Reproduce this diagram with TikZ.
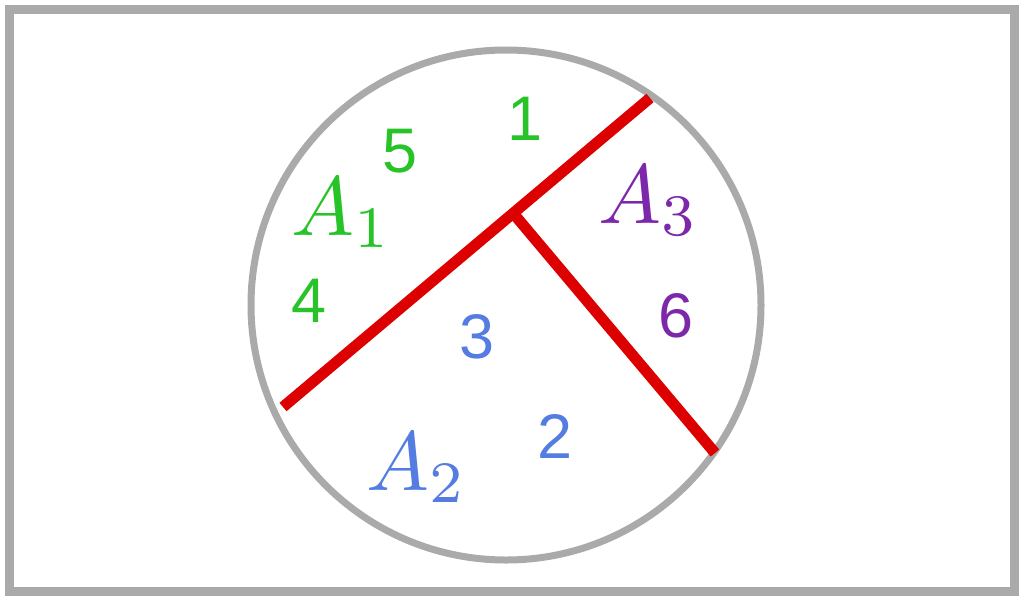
\documentclass[tikz,border=0pt]{standalone}
\usepackage{fontspec}
\newfontfamily\numfont{Liberation Sans}
\definecolor{fgray}{RGB}{170,170,170}
\definecolor{fred}{RGB}{220,0,0}
\definecolor{fgreen}{RGB}{40,195,40}
\definecolor{fpurple}{RGB}{125,40,170}
\definecolor{fblue}{RGB}{85,125,225}
\newcommand{\biglbl}[1]{\scalebox{8.4}{\fontsize{10}{12}\selectfont$#1$}}
\tikzset{
  num/.style={anchor=base, inner sep=0pt, font=\numfont\fontsize{63}{63}\selectfont},
  lbl/.style={anchor=base west, inner sep=0pt},
  cut/.style={draw=fred, line width=11pt},
}
\begin{document}
\begin{tikzpicture}[x=1pt,y=-1pt]
\useasboundingbox (0,0) rectangle (1023,600);
\draw[fgray, line width=9pt] (9,9) rectangle (1014,591);
\node[draw=fgray, line width=7pt, circle, minimum size=510pt, inner sep=0pt] (circ) at (506,305) {};
\coordinate (c1a) at (283,407);
\coordinate (c1b) at (650,98);
\coordinate (c2a) at (513,213);
\coordinate (c2b) at (715,453);
\draw[cut] (c1a) -- (c1b);
\draw[cut] (c2a) -- (c2b);
\node[num, text=fgreen] (n1) at (525,140) {1};
\node[num, text=fgreen] (n5) at (400,172) {5};
\node[num, text=fgreen] (n4) at (309,322) {4};
\node[num, text=fpurple] (n6) at (676,337) {6};
\node[num, text=fblue] (n3) at (477,358) {3};
\node[num, text=fblue] (n2) at (555,458) {2};
\node[lbl, text=fgreen] (a1) at (291,235) {\biglbl{A_1}};
\node[lbl, text=fpurple] (a3) at (598,223) {\biglbl{A_3}};
\node[lbl, text=fblue] (a2) at (366,490) {\biglbl{A_2}};
\end{tikzpicture}
\end{document}
